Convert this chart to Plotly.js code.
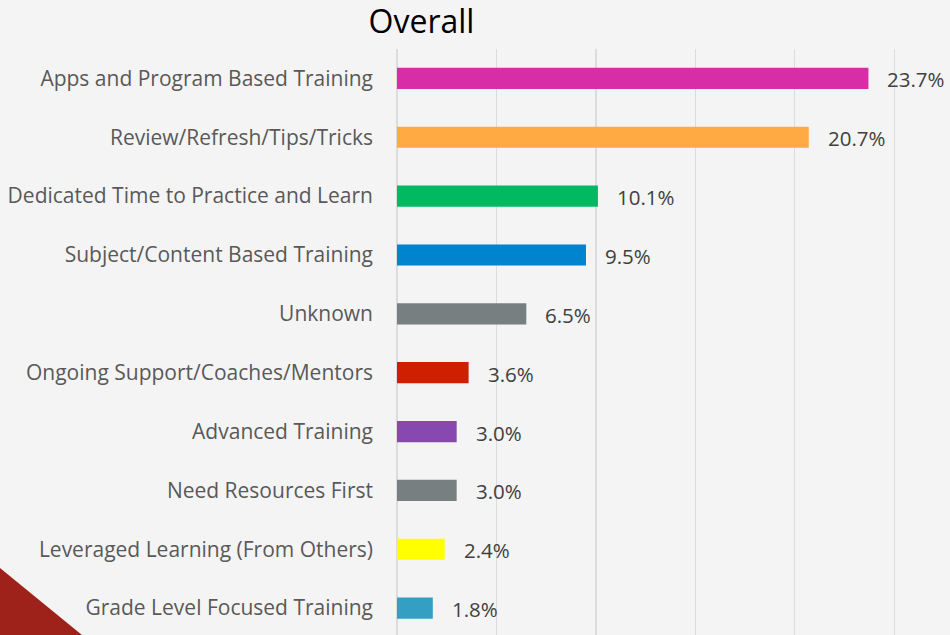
<!DOCTYPE html>
<html>
<head>
<meta charset="utf-8">
<script src="https://cdn.plot.ly/plotly-3.0.1.min.js"></script>
<style>html,body{margin:0;padding:0;background:#f4f4f4;}#chart{width:950px;height:635px;}</style>
</head>
<body>
<div id="chart"></div>
<script>
var categories = [
  "Apps and Program Based Training",
  "Review/Refresh/Tips/Tricks",
  "Dedicated Time to Practice and Learn",
  "Subject/Content Based Training",
  "Unknown",
  "Ongoing Support/Coaches/Mentors",
  "Advanced Training",
  "Need Resources First",
  "Leveraged Learning (From Others)",
  "Grade Level Focused Training"
];
var values = [23.7, 20.7, 10.1, 9.5, 6.5, 3.6, 3.0, 3.0, 2.4, 1.8];
var valueLabels = ["23.7%", "20.7%", "10.1%", "9.5%", "6.5%", "3.6%", "3.0%", "3.0%", "2.4%", "1.8%"];
var barColors = ["#d72ea8", "#ffaa42", "#00b960", "#0084cd", "#787f80", "#cf1f00", "#8749b0", "#787f80", "#ffff00", "#349fc2"];
var xTicks = [0, 5, 10, 15, 20, 25];

var trace = {
  type: "bar",
  orientation: "h",
  y: categories,
  x: values,
  marker: {color: barColors},
  width: 0.36,
  hoverinfo: "skip"
};

var annotations = categories.map(function (c, i) {
  return {
    x: values[i], y: c, xref: "x", yref: "y",
    text: valueLabels[i], showarrow: false,
    xanchor: "left", yanchor: "middle", xshift: 17, yshift: -1,
    font: {family: "Open Sans, sans-serif", size: 20.5, color: "#404040"}
  };
});

var layout = {
  width: 950, height: 635,
  paper_bgcolor: "#f4f4f4", plot_bgcolor: "#f4f4f4",
  margin: {l: 397, r: 0, t: 49, b: 0, pad: 0},
  showlegend: false,
  title: {
    text: "Overall",
    xref: "container", yref: "container",
    x: 0.4437, xanchor: "center",
    y: 0.966, yanchor: "middle",
    font: {family: "Open Sans, sans-serif", size: 32, color: "#000000"}
  },
  xaxis: {
    range: [0, 27.8],
    tickvals: xTicks,
    showticklabels: false,
    showgrid: true, gridcolor: "#dcdcdc", gridwidth: 1.3,
    zeroline: true, zerolinecolor: "#dcdcdc", zerolinewidth: 1.3,
    showline: false, fixedrange: true
  },
  yaxis: {
    type: "category",
    categoryorder: "array", categoryarray: categories,
    range: [9.457, -0.5],
    showgrid: false, zeroline: false, showline: false,
    ticks: "", ticklabelstandoff: 23,
    tickfont: {family: "Open Sans, sans-serif", size: 21, color: "#595959"},
    fixedrange: true
  },
  annotations: annotations,
  shapes: [{
    type: "path", xref: "paper", yref: "paper",
    path: "M -0.718 0.1143 L -0.718 0 L -0.5697 0 Z",
    fillcolor: "#9e2219", line: {width: 0}, layer: "below"
  }]
};

Plotly.newPlot("chart", [trace], layout, {displayModeBar: false, staticPlot: true});
</script>
</body>
</html>
